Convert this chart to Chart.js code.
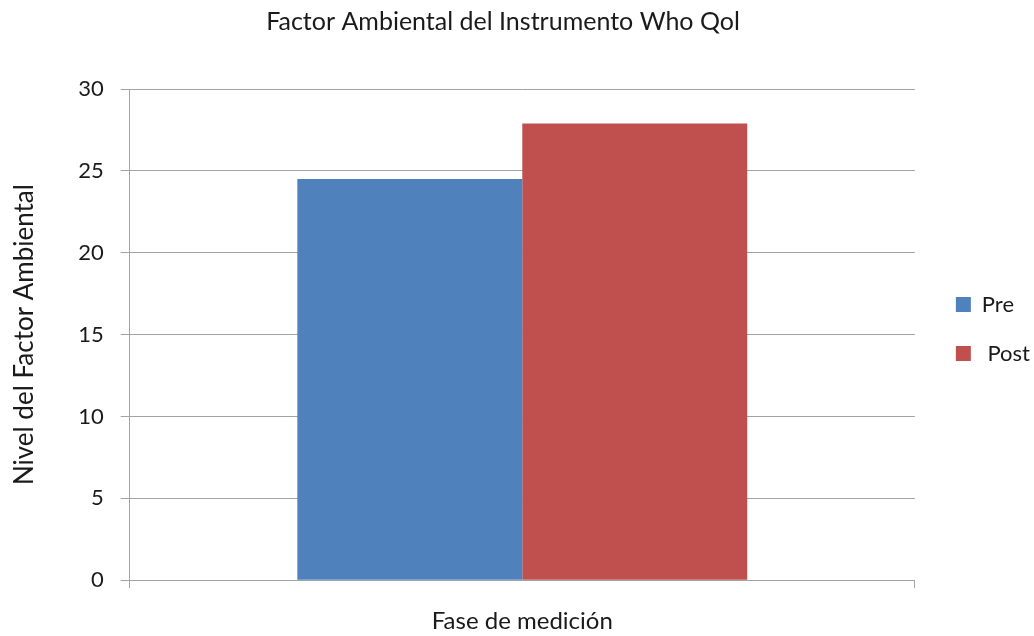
<!DOCTYPE html>
<html>
<head>
<meta charset="utf-8">
<script src="https://cdn.jsdelivr.net/npm/chart.js@4/dist/chart.umd.min.js"></script>
<style>
html,body{margin:0;padding:0;background:#fff;}
#wrap{width:1034px;height:636px;position:relative;}
</style>
</head>
<body>
<div id="wrap"><canvas id="c" width="1034" height="636"></canvas></div>
<script>
const chartTitle = 'Factor Ambiental del Instrumento Who Qol';
const categories = [''];
const seriesNames = ['Pre', ' Post'];
const preValues = [24.5];
const postValues = [27.9];
const yTicks = [0, 5, 10, 15, 20, 25, 30];
const xAxisTitle = 'Fase de medición';
const yAxisTitle = 'Nivel del Factor Ambiental';

const FONT = 'Lato, "Open Sans", sans-serif';
const gridColor = '#a3a3a3';
const textColor = '#1a1a1a';

const titleShift = {
  id: 'titleShift',
  afterLayout(chart) {
    const t = chart.titleBlock;
    if (t) { t.left -= 21; t.right -= 21; }
  }
};

new Chart(document.getElementById('c'), {
  type: 'bar',
  data: {
    labels: categories,
    datasets: [
      { label: seriesNames[0], data: preValues, backgroundColor: '#4F81BD', borderWidth: 0, categoryPercentage: 0.573, barPercentage: 1 },
      { label: seriesNames[1], data: postValues, backgroundColor: '#C0504D', borderWidth: 0, categoryPercentage: 0.573, barPercentage: 1 }
    ]
  },
  plugins: [titleShift],
  options: {
    responsive: false,
    animation: false,
    devicePixelRatio: 1,
    layout: { padding: { top: 6, right: -6, bottom: 0, left: 8 } },
    plugins: {
      title: {
        display: true, text: chartTitle, color: textColor,
        font: { family: FONT, size: 25, weight: 'normal' },
        padding: { top: 1, bottom: 52 }
      },
      legend: {
        position: 'right',
        title: { display: true, text: ' ', font: { family: FONT, size: 10 }, padding: 2 },
        labels: {
          color: textColor, boxWidth: 15, boxHeight: 15, padding: 27,
          font: { family: FONT, size: 22 }
        }
      },
      tooltip: { enabled: false }
    },
    scales: {
      x: {
        grid: { display: true, drawOnChartArea: false, color: gridColor, tickLength: 8, offset: true },
        border: { color: gridColor, width: 1 },
        ticks: { display: false },
        title: { display: true, text: xAxisTitle, color: textColor, font: { family: FONT, size: 24 }, padding: { top: 19, bottom: 0 } }
      },
      y: {
        min: 0, max: 30,
        afterBuildTicks: (axis) => { axis.ticks = yTicks.map(v => ({ value: v })); },
        grid: { color: gridColor, tickLength: 9 },
        border: { color: gridColor, width: 1 },
        ticks: { color: textColor, font: { family: FONT, size: 22 }, padding: 17 },
        title: { display: true, text: yAxisTitle, color: textColor, font: { family: FONT, size: 26 }, padding: { top: 1, bottom: 21 } }
      },
      gap: {
        position: 'right', display: true,
        grid: { display: false }, border: { display: false }, ticks: { display: false },
        afterFit: (s) => { s.width = 14; }
      }
    }
  }
});
</script>
</body>
</html>
